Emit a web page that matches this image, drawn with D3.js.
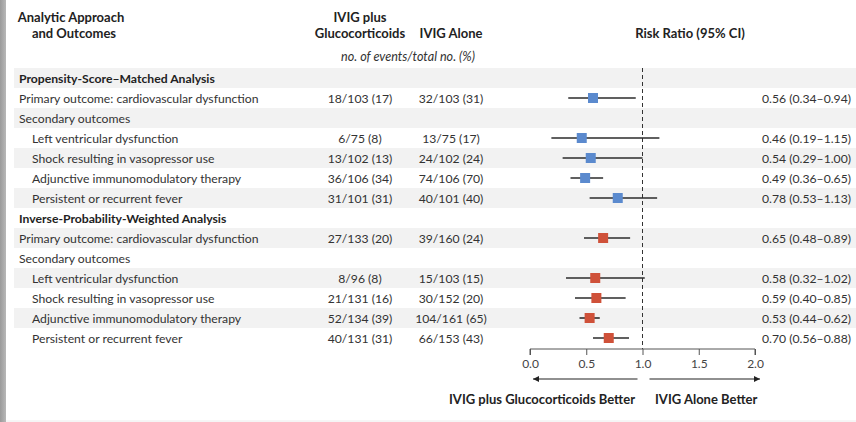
<!DOCTYPE html>
<html>
<head>
<meta charset="utf-8">
<script src="https://cdn.jsdelivr.net/npm/d3@7"></script>
<style>
  html, body { margin: 0; padding: 0; background: #fff; }
  svg { display: block; }
  text { font-family: Lato, "Open Sans", sans-serif; fill: #333; }
</style>
</head>
<body>
<svg id="chart" width="856" height="422"></svg>
<script>
// Outcome rows, top to bottom
const rowLabels = [
  "Propensity-Score\u2013Matched Analysis",
  "Primary outcome: cardiovascular dysfunction",
  "Secondary outcomes",
  "Left ventricular dysfunction",
  "Shock resulting in vasopressor use",
  "Adjunctive immunomodulatory therapy",
  "Persistent or recurrent fever",
  "Inverse-Probability-Weighted Analysis",
  "Primary outcome: cardiovascular dysfunction",
  "Secondary outcomes",
  "Left ventricular dysfunction",
  "Shock resulting in vasopressor use",
  "Adjunctive immunomodulatory therapy",
  "Persistent or recurrent fever"
];
const rowKinds = ["section", "outcome", "outcome", "sub", "sub", "sub", "sub",
                  "section", "outcome", "outcome", "sub", "sub", "sub", "sub"];
const analysis = ["psm", "psm", "psm", "psm", "psm", "psm", "psm",
                  "ipw", "ipw", "ipw", "ipw", "ipw", "ipw", "ipw"];
const ivigPlusGluco = ["", "18/103 (17)", "", "6/75 (8)", "13/102 (13)", "36/106 (34)", "31/101 (31)",
                       "", "27/133 (20)", "", "8/96 (8)", "21/131 (16)", "52/134 (39)", "40/131 (31)"];
const ivigAlone = ["", "32/103 (31)", "", "13/75 (17)", "24/102 (24)", "74/106 (70)", "40/101 (40)",
                   "", "39/160 (24)", "", "15/103 (15)", "30/152 (20)", "104/161 (65)", "66/153 (43)"];
const riskRatio = [null, 0.56, null, 0.46, 0.54, 0.49, 0.78, null, 0.65, null, 0.58, 0.59, 0.53, 0.70];
const ciLower   = [null, 0.34, null, 0.19, 0.29, 0.36, 0.53, null, 0.48, null, 0.32, 0.40, 0.44, 0.56];
const ciUpper   = [null, 0.94, null, 1.15, 1.00, 0.65, 1.13, null, 0.89, null, 1.02, 0.85, 0.62, 0.88];
const tickValues = [0, 0.5, 1.0, 1.5, 2.0];

const colors = { psm: "#5b8ace", ipw: "#cf5139" };

const svg = d3.select("#chart");
const W = 856, H = 422;
const bodySize = 12.2;

const x = d3.scaleLinear().domain([0, 2]).range([530, 755]);
const y = d3.scaleBand().domain(d3.range(rowLabels.length)).range([68, 348]);
const yc = i => y(i) + y.bandwidth() / 2;

// Left edge strip and bottom rule
const defs = svg.append("defs");
const grad = defs.append("linearGradient").attr("id", "edge");
grad.append("stop").attr("offset", "0%").attr("stop-color", "#9a9a9a");
grad.append("stop").attr("offset", "100%").attr("stop-color", "#b8b8b8");
svg.append("rect").attr("x", 0).attr("y", 0).attr("width", 6).attr("height", H).attr("fill", "url(#edge)");
svg.append("line").attr("x1", 6).attr("x2", W).attr("y1", 421).attr("y2", 421)
  .attr("stroke", "#ececec").attr("stroke-width", 1);

// Alternating row shading
svg.append("g").selectAll("rect")
  .data(d3.range(rowLabels.length).filter(i => i % 2 === 0))
  .join("rect")
  .attr("x", 14).attr("width", W - 14)
  .attr("y", i => y(i)).attr("height", y.bandwidth())
  .attr("fill", "#f2f2f2");

// Column headings
const head = svg.append("g").attr("font-weight", "bold").attr("font-size", 13).attr("text-anchor", "middle");
head.append("text").attr("x", 71).attr("y", 22).text("Analytic Approach").style("fill", "#222");
head.append("text").attr("x", 74).attr("y", 38).text("and Outcomes").style("fill", "#222");
head.append("text").attr("x", 360).attr("y", 22).text("IVIG plus").style("fill", "#222");
head.append("text").attr("x", 360).attr("y", 38).text("Glucocorticoids").style("fill", "#222");
head.append("text").attr("x", 451).attr("y", 38).text("IVIG Alone").style("fill", "#222");
head.append("text").attr("x", 690).attr("y", 38).text("Risk Ratio (95% CI)").style("fill", "#222");
svg.append("text").attr("x", 408).attr("y", 61).attr("text-anchor", "middle")
  .attr("font-style", "italic").attr("font-size", 12.6).text("no. of events/total no. (%)");

// Row labels
svg.append("g").selectAll("text")
  .data(rowLabels)
  .join("text")
  .attr("x", (d, i) => rowKinds[i] === "sub" ? 32 : 19)
  .attr("y", (d, i) => yc(i) + 4.5)
  .attr("font-size", bodySize)
  .attr("font-weight", (d, i) => rowKinds[i] === "section" ? "bold" : null)
  .style("fill", (d, i) => rowKinds[i] === "section" ? "#222" : "#333")
  .text(d => d);

// Event counts
svg.append("g").selectAll("text")
  .data(ivigPlusGluco)
  .join("text")
  .attr("x", 360).attr("y", (d, i) => yc(i) + 4.5)
  .attr("text-anchor", "middle").attr("font-size", bodySize)
  .text(d => d);
svg.append("g").selectAll("text")
  .data(ivigAlone)
  .join("text")
  .attr("x", 451).attr("y", (d, i) => yc(i) + 4.5)
  .attr("text-anchor", "middle").attr("font-size", bodySize)
  .text(d => d);

// Reference line at risk ratio 1.0
svg.append("line")
  .attr("x1", x(1)).attr("x2", x(1))
  .attr("y1", y(0)).attr("y2", 349)
  .attr("stroke", "#333").attr("stroke-width", 1)
  .attr("stroke-dasharray", "4,3");

// Confidence intervals and point estimates
const est = d3.range(rowLabels.length).filter(i => riskRatio[i] !== null);
const marks = svg.append("g");
marks.selectAll("line")
  .data(est)
  .join("line")
  .attr("x1", i => x(ciLower[i])).attr("x2", i => x(ciUpper[i]))
  .attr("y1", yc).attr("y2", yc)
  .attr("stroke", "#2b2b2b").attr("stroke-width", 1.6);
const sq = 10;
marks.selectAll("rect")
  .data(est)
  .join("rect")
  .attr("x", i => x(riskRatio[i]) - sq / 2)
  .attr("y", i => yc(i) - sq / 2)
  .attr("width", sq).attr("height", sq)
  .attr("fill", i => colors[analysis[i]]);

// Risk ratio labels
const f2 = d3.format(".2f");
svg.append("g").selectAll("text")
  .data(est)
  .join("text")
  .attr("x", 851).attr("y", i => yc(i) + 4.5)
  .attr("text-anchor", "end").attr("font-size", bodySize)
  .text(i => `${f2(riskRatio[i])} (${f2(ciLower[i])}\u2013${f2(ciUpper[i])})`);

// Axis
const axis = d3.axisBottom(x).tickValues(tickValues).tickFormat(d3.format(".1f")).tickSize(6).tickPadding(4);
const ax = svg.append("g").attr("transform", "translate(0,349)").call(axis);
ax.select(".domain").attr("stroke", "#555").attr("d", `M${x(0)},6V0H${x(2)}V6`);
ax.selectAll(".tick line").attr("stroke", "#555");
ax.selectAll(".tick text").attr("font-size", 12).attr("font-family", "Lato, sans-serif").style("fill", "#444");

// Direction arrows
defs.append("marker").attr("id", "arrow").attr("viewBox", "0 0 10 10")
  .attr("refX", 10).attr("refY", 5).attr("markerWidth", 10).attr("markerHeight", 6)
  .attr("markerUnits", "userSpaceOnUse").attr("orient", "auto")
  .append("path").attr("d", "M0,0L10,5L0,10Z").attr("fill", "#222");
svg.append("line").attr("x1", x(1) - 5).attr("x2", x(0) + 3).attr("y1", 379).attr("y2", 379)
  .attr("stroke", "#222").attr("stroke-width", 1.2).attr("marker-end", "url(#arrow)");
svg.append("line").attr("x1", x(1) + 7).attr("x2", x(2) + 5).attr("y1", 379).attr("y2", 379)
  .attr("stroke", "#222").attr("stroke-width", 1.2).attr("marker-end", "url(#arrow)");

const dir = svg.append("g").attr("font-weight", "bold").attr("font-size", 13);
dir.append("text").attr("x", 635).attr("y", 404).attr("text-anchor", "end").style("fill", "#222")
  .text("IVIG plus Glucocorticoids Better");
dir.append("text").attr("x", 655).attr("y", 404).style("fill", "#222").text("IVIG Alone Better");
</script>
</body>
</html>
